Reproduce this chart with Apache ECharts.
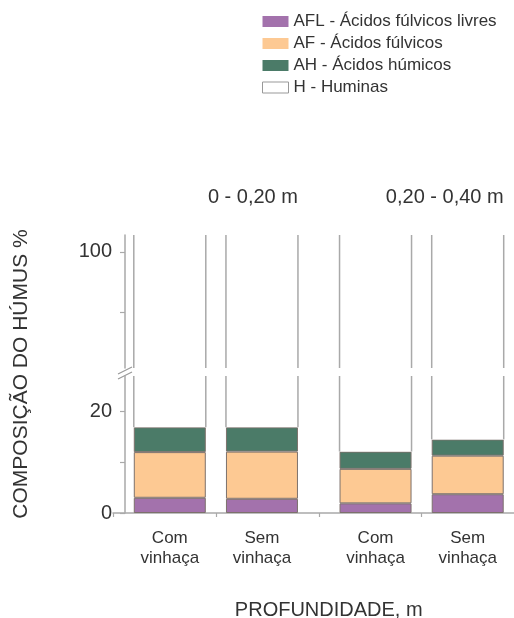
<!DOCTYPE html>
<html><head><meta charset="utf-8">
<script src="https://cdn.jsdelivr.net/npm/echarts@6/dist/echarts.min.js"></script>
<style>html,body{margin:0;padding:0;background:#fff}#c{width:514px;height:618px}</style>
</head><body><div id="c"></div>
<script>
// ---- data ----
const depths = ['0 - 0,20 m', '0,20 - 0,40 m'];
const treatments = ['Com vinhaça', 'Sem vinhaça'];
const components = ['AFL - Ácidos fúlvicos livres', 'AF - Ácidos fúlvicos', 'AH - Ácidos húmicos', 'H - Huminas'];
const aflCom = [3.0, 1.9];
const aflSem = [2.8, 3.7];
const afCom = [9.0, 6.8];
const afSem = [9.3, 7.6];
const ahCom = [4.9, 3.4];
const ahSem = [4.8, 3.2];
const hCom = [83.1, 87.9];
const hSem = [83.1, 85.5];
const lowerTicks = [0, 10, 20];
const lowerLabels = [0, 20];
const upperTicks = [90, 100];
const upperLabels = [100];
const xTitle = 'PROFUNDIDADE, m';
const yTitle = 'COMPOSIÇÃO DO HÚMUS %';

// ---- styles ----
const FONT = "'Liberation Sans', Arial, sans-serif";
const TXT = '#333';
const COLORS = ['#a372ac', '#fdc993', '#4b7b68', '#ffffff'];
const BAR_W = 72;
const GAP_RATIO = 0.28;
const AXIS_C = '#a9a9a9';

const byTreat = [
  [aflCom, afCom, ahCom, hCom],
  [aflSem, afSem, ahSem, hSem]
];

const chart = echarts.init(document.getElementById('c'), null, {renderer: 'canvas'});

const gridBox = {left: 113, width: 411.5, outerBoundsMode: 'none', containLabel: false};
const series = [];
[0, 1].forEach(g => {
  [0, 1].forEach(t => {
    byTreat[t].forEach((vals, c) => {
      const s = {
        name: components[c], type: 'bar', stack: 'g' + g + 't' + t,
        xAxisIndex: g, yAxisIndex: g, data: vals.slice(),
        barWidth: BAR_W, barGap: (GAP_RATIO * 100) + '%',
        itemStyle: c === 3 ? {color: COLORS[c], borderWidth: 0}
                           : {color: COLORS[c], borderColor: '#7c716c', borderWidth: 1},
        emphasis: {disabled: true}, silent: true
      };
      if (g === 0 && c === 0) {
        s.label = {
          show: true, position: 'bottom', distance: 15,
          formatter: () => treatments[t].split(' ').join('\n'),
          fontSize: 17, lineHeight: 20, color: TXT, fontFamily: FONT
        };
      }
      series.push(s);
    });
  });
  const edgeData = [];
  depths.forEach((_, d) => {
    [0, 1].forEach(t => {
      const tot = byTreat[t][0][d] + byTreat[t][1][d] + byTreat[t][2][d];
      edgeData.push([d, tot, t]);
    });
  });
  series.push({
    type: 'custom', xAxisIndex: g, yAxisIndex: g, silent: true, z: 5,
    encode: {x: 0, y: 1},
    data: edgeData,
    renderItem: function (params, api) {
      const cs = params.coordSys;
      const d = api.value(0), tot = api.value(1), t = api.value(2);
      const p = api.coord([d, tot]);
      const cx = p[0] + (t === 0 ? -1 : 1) * (BAR_W + BAR_W * GAP_RATIO) / 2;
      const yB = Math.min(p[1], cs.y + cs.height);
      const yT = cs.y;
      const st = {stroke: AXIS_C, lineWidth: 1.5};
      return {type: 'group', children: [
        {type: 'line', shape: {x1: cx - BAR_W / 2, y1: yB, x2: cx - BAR_W / 2, y2: yT}, style: st},
        {type: 'line', shape: {x1: cx + BAR_W / 2, y1: yB, x2: cx + BAR_W / 2, y2: yT}, style: st}
      ]};
    }
  });
});

function yAx(grid, min, max, ticks, labels) {
  return {
    gridIndex: grid, type: 'value', min: min, max: max, offset: -12,
    axisLine: {show: true, lineStyle: {color: AXIS_C, width: 1.5}},
    axisTick: {show: true, customValues: ticks, length: 5, lineStyle: {color: AXIS_C, width: 1.2}},
    axisLabel: {customValues: labels, fontSize: 20, color: TXT, margin: 13, fontFamily: FONT},
    splitLine: {show: false}
  };
}
const hiddenCat = g => ({
  gridIndex: g, type: 'category', data: depths, position: 'bottom',
  axisLine: {show: false}, axisTick: {show: false}, axisLabel: {show: false}, splitLine: {show: false}
});

chart.setOption({
  animation: false,
  backgroundColor: '#fff',
  textStyle: {fontFamily: FONT},
  legend: {
    orient: 'vertical', left: 257, top: 8, itemWidth: 26, itemHeight: 11, itemGap: 5,
    selectedMode: false,
    textStyle: {fontSize: 17, color: TXT, fontFamily: FONT},
    data: components.map((n, i) => ({
      name: n, icon: 'rect',
      itemStyle: i === 3 ? {color: '#fff', borderColor: '#999', borderWidth: 1}
                         : {color: COLORS[i], borderWidth: 0}
    }))
  },
  grid: [
    Object.assign({top: 376, height: 137}, gridBox),
    Object.assign({top: 235, height: 133}, gridBox)
  ],
  xAxis: [
    hiddenCat(0),
    hiddenCat(1),
    {
      gridIndex: 0, type: 'value', min: 0, max: 4, interval: 1, position: 'bottom',
      axisLine: {show: true, lineStyle: {color: AXIS_C, width: 1.5}},
      axisTick: {show: true, length: 4, lineStyle: {color: AXIS_C, width: 1.2}},
      axisLabel: {show: false}, splitLine: {show: false},
      name: xTitle, nameLocation: 'middle', nameGap: 87,
      nameTextStyle: {fontSize: 20, color: TXT, fontFamily: FONT, padding: [0, 0, 0, 20]}
    }
  ],
  yAxis: [
    yAx(0, 0, 27, lowerTicks, lowerLabels),
    yAx(1, 80.7, 102.8, upperTicks, upperLabels)
  ],
  series: series
});

// decorations derived from the axes
const centers = depths.map((_, i) => chart.convertToPixel({xAxisIndex: 1}, i));
const yAxisX = gridBox.left + 12;
const graphics = [
  {type: 'text', x: 21, y: 374, rotation: Math.PI / 2,
   style: {text: yTitle, fontSize: 21, fill: TXT, fontFamily: FONT, align: 'center', verticalAlign: 'middle', textAlign: 'center', textVerticalAlign: 'middle'}},
  {type: 'line', shape: {x1: yAxisX - 7, y1: 374, x2: yAxisX + 7, y2: 367}, style: {stroke: '#999', lineWidth: 1.2}},
  {type: 'line', shape: {x1: yAxisX - 7, y1: 379, x2: yAxisX + 7, y2: 372}, style: {stroke: '#999', lineWidth: 1.2}}
];
depths.forEach((txt, i) => {
  graphics.push({type: 'text', x: centers[i] + (BAR_W + BAR_W * GAP_RATIO) / 2 + BAR_W / 2, y: 197,
    style: {text: txt, fontSize: 20, fill: TXT, fontFamily: FONT, align: 'right', verticalAlign: 'middle', textAlign: 'right', textVerticalAlign: 'middle'}});
});
chart.setOption({graphic: graphics});
</script>
</body></html>
